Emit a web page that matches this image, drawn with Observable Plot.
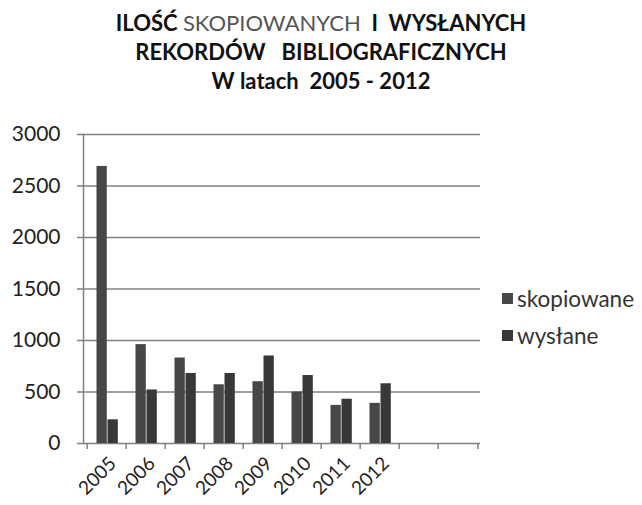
<!DOCTYPE html>
<html>
<head>
<meta charset="utf-8">
<script src="https://cdn.jsdelivr.net/npm/d3@7"></script>
<script src="https://cdn.jsdelivr.net/npm/@observablehq/plot@0.6"></script>
<style>
  html, body { margin: 0; padding: 0; background: #fff; }
  body { width: 642px; height: 505px; position: relative; overflow: hidden; font-family: Lato, "Open Sans", sans-serif; }
  #title { height: 105px; text-align: center; font-weight: bold; font-size: 22px; color: #111; line-height: 29px; padding-top: 8px; box-sizing: border-box; }
  #title .light { color: #555; font-weight: normal; }
  #legend { position: absolute; left: 502px; top: 280px; font-size: 22.5px; color: #333; }
  #legend div { height: 37px; display: flex; align-items: center; }
  #legend span.sw { display: inline-block; width: 11px; height: 11px; margin-right: 4px; }
</style>
</head>
<body>
<div id="title">ILOŚĆ <span class="light">SKOPIOWANYCH</span>&nbsp; I&nbsp; WYSŁANYCH<br>REKORDÓW&nbsp;&nbsp; BIBLIOGRAFICZNYCH<br>W latach&nbsp; 2005 - 2012</div>
<div id="chart"></div>
<div id="legend"></div>
<script>
const years = ["2005", "2006", "2007", "2008", "2009", "2010", "2011", "2012"];
const emptySlots = ["_a", "_b"];
const skopiowane = [2690, 960, 830, 570, 600, 500, 370, 390];
const wyslane = [230, 520, 680, 680, 850, 660, 430, 580];
const seriesNames = ["skopiowane", "wysłane"];
const seriesColors = ["#474747", "#383838"];
const yTicks = [0, 500, 1000, 1500, 2000, 2500, 3000];

const slots = years.concat(emptySlots);
const rows = [];
years.forEach((y, i) => {
  rows.push({year: y, series: seriesNames[0], value: skopiowane[i]});
  rows.push({year: y, series: seriesNames[1], value: wyslane[i]});
});

const W = 642, H = 400, mL = 83, mR = 162, mT = 29, mB = 62;
const bw = (W - mL - mR) / slots.length;
const barW = 11, lead = 9.5;

const chart = Plot.plot({
  width: W, height: H,
  marginLeft: mL, marginRight: mR, marginTop: mT, marginBottom: mB,
  style: {fontFamily: "Lato, 'Open Sans', sans-serif", fontSize: "19px", color: "#222", background: "#fff"},
  x: {domain: slots, padding: 0, label: null},
  y: {domain: [0, 3000], label: null},
  color: {domain: seriesNames, range: seriesColors},
  marks: [
    Plot.ruleY(yTicks, {stroke: "#808080", strokeWidth: 1.5, insetLeft: -6}),
    Plot.axisY({ticks: yTicks, tickSize: 0, tickPadding: 23, label: null, fontSize: 21, tickFormat: d => String(d)}),
    Plot.frame({anchor: "left", stroke: "#808080", strokeWidth: 1.5}),
    Plot.ruleX(slots, {x: d => d, dx: -bw / 2, y1: 0, y2: 0, insetBottom: -6, stroke: "#808080", strokeWidth: 1.5}),
    Plot.ruleX(slots.slice(-1), {x: d => d, dx: bw / 2, y1: 0, y2: 0, insetBottom: -6, stroke: "#808080", strokeWidth: 1.5}),
    Plot.barY(rows.filter(d => d.series === seriesNames[0]), {x: "year", y: "value", fill: "series", insetLeft: lead, insetRight: bw - lead - barW}),
    Plot.barY(rows.filter(d => d.series === seriesNames[1]), {x: "year", y: "value", fill: "series", insetLeft: lead + barW, insetRight: bw - lead - 2 * barW}),
    Plot.axisX({tickRotate: -45, tickSize: 0, tickPadding: 17, dx: 6, label: null, fontSize: 19,
      tickFormat: d => years.includes(d) ? d : ""})
  ]
});
document.getElementById("chart").appendChild(chart);

const leg = document.getElementById("legend");
seriesNames.forEach((s, i) => {
  const row = document.createElement("div");
  const sw = document.createElement("span");
  sw.className = "sw";
  sw.style.background = seriesColors[i];
  row.appendChild(sw);
  row.appendChild(document.createTextNode(s));
  leg.appendChild(row);
});
</script>
</body>
</html>
